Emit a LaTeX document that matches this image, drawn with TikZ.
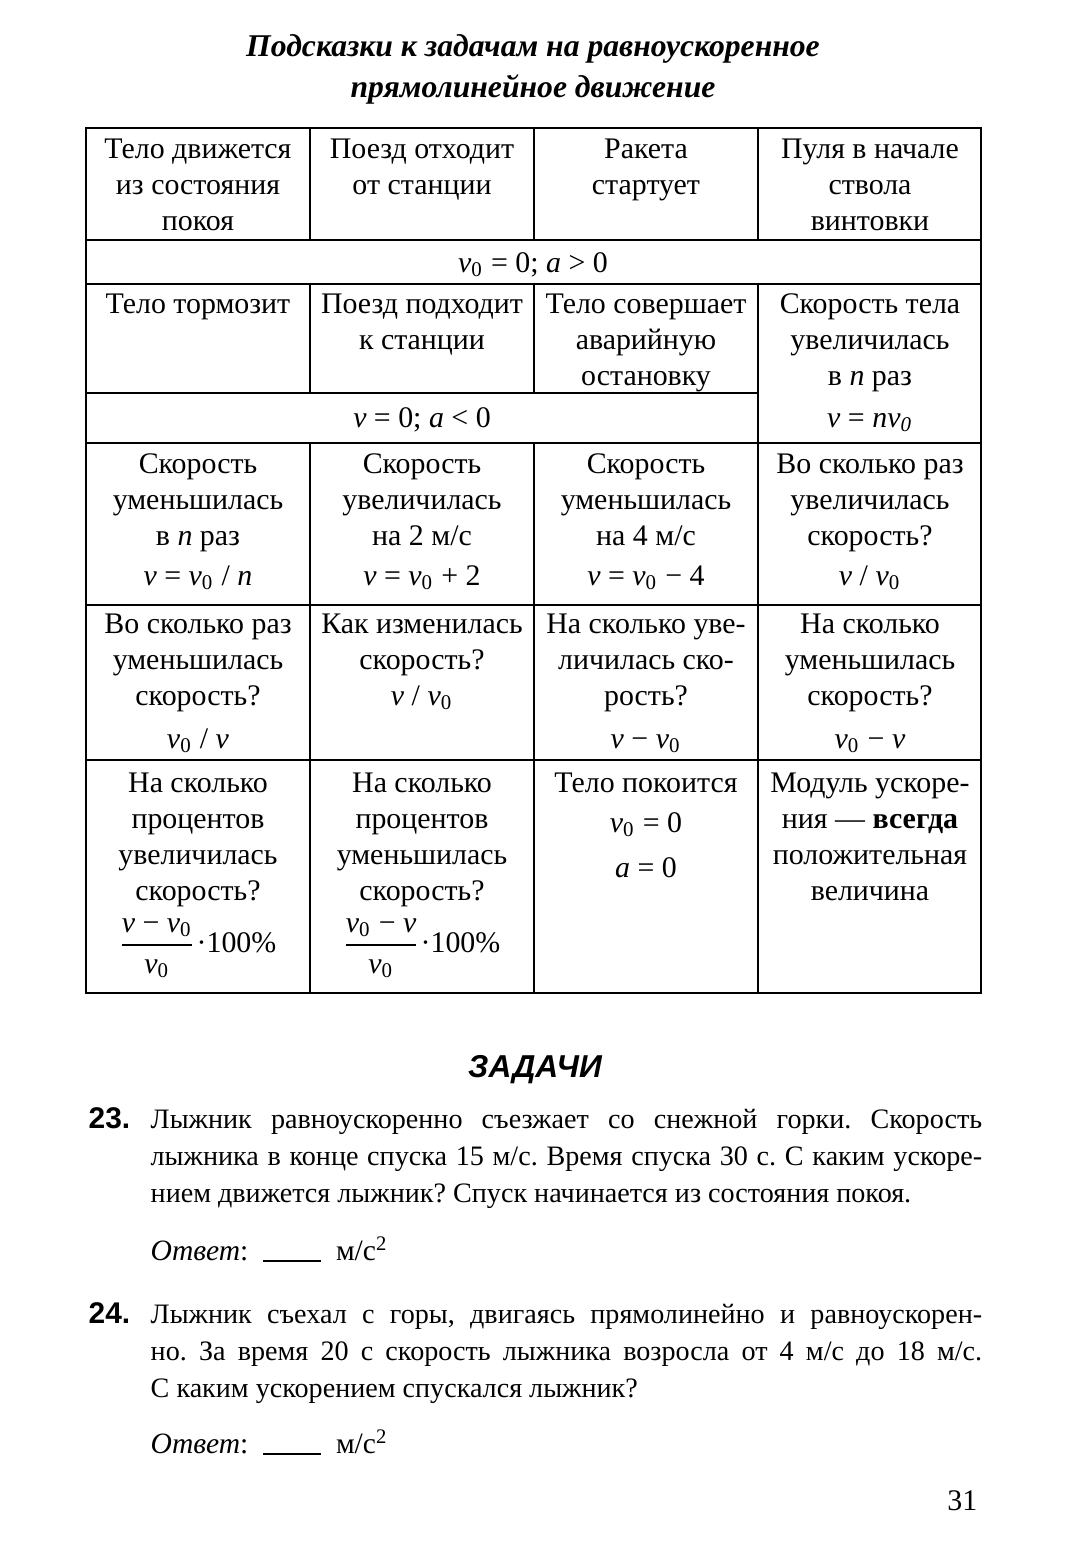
\documentclass[tikz,border=0pt]{standalone}
\usepackage{amsmath}
\usepackage{fontspec}
\usepackage{tikz}
\setmainfont{Liberation Serif}
\newfontfamily\headsans{Liberation Sans}
\frenchspacing

\newcommand{\vel}{\textit{v}}
\newcommand{\velz}{\textit{v}\textsubscript{0}}
\newcommand{\cellfrac}[2]{$\dfrac{\mbox{#1}}{\mbox{#2}}$}

\tikzset{
    tabline/.style={line width=0.6pt, line cap=rect},
    cell/.style={anchor=north, align=center, inner sep=0pt, font=\fontsize{8.5}{10.2}\selectfont},
    spancell/.style={anchor=base, inner sep=0pt, font=\fontsize{8.5}{10.2}\selectfont},
    headline/.style={cell, font=\fontsize{9}{10.2}\selectfont\bfseries\itshape},
    task/.style={anchor=north west, align=left, inner sep=0pt, font=\fontsize{8}{10.5}\selectfont},
    tasknum/.style={anchor=base west, inner sep=0pt, font=\fontsize{8.5}{10.5}\selectfont\headsans\bfseries},
    answer/.style={anchor=base west, inner sep=0pt, font=\fontsize{8.4}{10.5}\selectfont}
}

\begin{document}
\begin{tikzpicture}[x=0.01cm, y=-0.01cm]
                \useasboundingbox (0,0) rectangle (1066,1544);

                \node[headline] (heading) at (533,31) {\strut Подсказки к задачам на равноускоренное\\[1.3pt]прямолинейное движение};

                % table rules
                \foreach \y in {128,240,284,443,605,760,993}
                    \draw[tabline] (86,\y) -- (981,\y);
                \draw[tabline] (86,393) -- (758,393);
                \draw[tabline] (86,128) -- (86,993);
                \draw[tabline] (981,128) -- (981,993);
                \foreach \x in {310,534} {
                    \draw[tabline] (\x,128) -- (\x,240);
                    \draw[tabline] (\x,284) -- (\x,393);
                    \draw[tabline] (\x,443) -- (\x,993);
                }
                \draw[tabline] (758,128) -- (758,240);
                \draw[tabline] (758,284) -- (758,993);

                \node[cell] (rest) at (198,133) {\strut Тело движется\\из состояния\\покоя};
                \node[cell] (train off) at (422,133) {\strut Поезд отходит\\от станции};
                \node[cell] (rocket) at (646,133) {\strut Ракета\\стартует};
                \node[cell] (bullet) at (870,133) {\strut Пуля в начале\\ствола\\винтовки};
                \node[spancell] (start cond) at (533,272) {\velz{} = 0; \textit{a} > 0};

                \node[cell] (brake) at (198,288) {\strut Тело тормозит};
                \node[cell] (train in) at (422,288) {\strut Поезд подходит\\к станции};
                \node[cell] (crash) at (646,288) {\strut Тело совершает\\аварийную\\остановку};
                \node[cell] (n up) at (870,288) {\strut Скорость тела\\увеличилась\\в \textit{n} раз\\[1.7pt]\vel{} = \textit{nv}\textsubscript{\textit{0}}};
                \node[spancell] (stop cond) at (422,427) {\vel{} = 0; \textit{a} < 0};

                \node[cell] (n down) at (198,448) {\strut Скорость\\уменьшилась\\в \textit{n} раз\\[1.2pt]\vel{} = \velz{} / \textit{n}};
                \node[cell] (plus 2) at (422,448) {\strut Скорость\\увеличилась\\на 2 м/с\\[1.2pt]\vel{} = \velz{} + 2};
                \node[cell] (minus 4) at (646,448) {\strut Скорость\\уменьшилась\\на 4 м/с\\[1.2pt]\vel{} = \velz{} − 4};
                \node[cell] (times up) at (870,448) {\strut Во сколько раз\\увеличилась\\скорость?\\[1.2pt]\vel{} / \velz};

                \node[cell] (times down) at (198,608) {\strut Во сколько раз\\уменьшилась\\скорость?\\[2pt]\velz{} / \vel};
                \node[cell] (change) at (422,608) {\strut Как изменилась\\скорость?\\\vel{} / \velz};
                \node[cell] (diff up) at (646,608) {\strut На сколько уве-\\личилась ско-\\рость?\\[2pt]\vel{} − \velz};
                \node[cell] (diff down) at (870,608) {\strut На сколько\\уменьшилась\\скорость?\\[2pt]\velz{} − \vel};

                \node[cell] (pct up) at (198,767) {\strut На сколько\\процентов\\увеличилась\\скорость?};
                \node[cell] (pct down) at (422,767) {\strut На сколько\\процентов\\уменьшилась\\скорость?};
                \node[spancell] (pct up frac) at (197,952) {\cellfrac{\vel{} − \velz}{\velz}·100\%};
                \node[spancell] (pct down frac) at (421,952) {\cellfrac{\velz{} − \vel}{\velz}·100\%};
                \node[cell] (at rest) at (646,767) {\strut Тело покоится\\[1.1pt]\velz{} = 0\\[2.6pt]\textit{a} = 0};
                \node[cell] (modulus) at (870,767) {\strut Модуль ускоре-\\ния — \textbf{всегда}\\положительная\\величина};

                % tasks
                \node[anchor=base, inner sep=0pt, font=\fontsize{9}{10.5}\selectfont\headsans\bfseries\itshape] (tasks) at (535,1077) {ЗАДАЧИ};

                \node[tasknum] (num 23) at (88,1128) {23.};
                \node[task] (text 23) at (150,1102) {\strut\makebox[8.31cm][s]{Лыжник равноускоренно съезжает со снежной горки. Скорость}\\\makebox[8.31cm][s]{лыжника в конце спуска 15 м/с. Время спуска 30 с. С каким ускоре-}\\нием движется лыжник? Спуск начинается из состояния покоя.};
                \node[answer] (ans 23) at (150,1260) {\textit{Ответ}:\ \ \rule[-0.6pt]{0.58cm}{0.5pt}\ \ м/с\textsuperscript{2}};

                \node[tasknum] (num 24) at (88,1323) {24.};
                \node[task] (text 24) at (150,1297) {\strut\makebox[8.31cm][s]{Лыжник съехал с горы, двигаясь прямолинейно и равноускорен-}\\\makebox[8.31cm][s]{но. За время 20 с скорость лыжника возросла от 4 м/с до 18 м/с.}\\С каким ускорением спускался лыжник?};
                \node[answer] (ans 24) at (150,1453) {\textit{Ответ}:\ \ \rule[-0.6pt]{0.58cm}{0.5pt}\ \ м/с\textsuperscript{2}};

                \node[anchor=base east, inner sep=0pt, font=\fontsize{8.5}{10.5}\selectfont] (page) at (978,1510) {31};
            \end{tikzpicture}
\end{document}
